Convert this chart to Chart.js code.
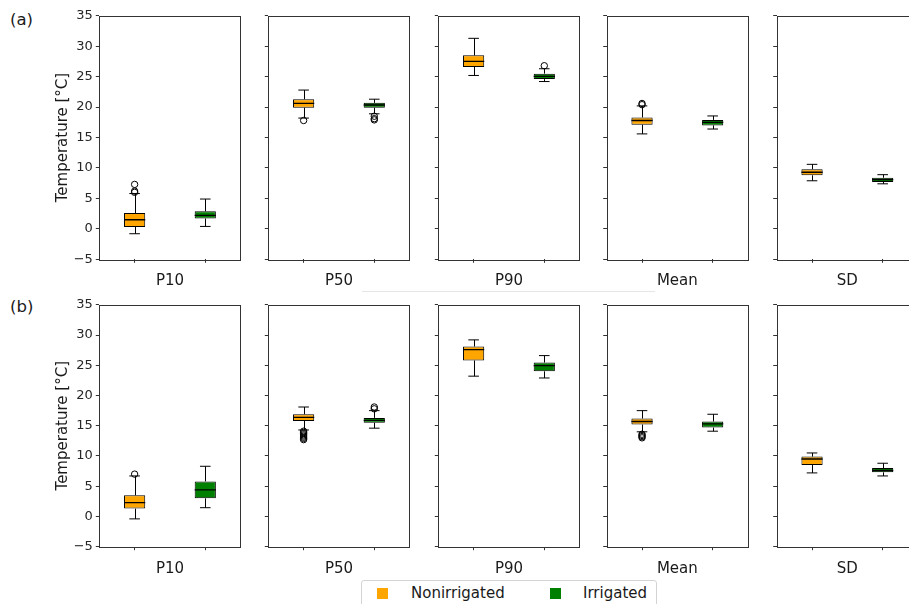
<!DOCTYPE html>
<html>
<head>
<meta charset="utf-8">
<script src="https://cdn.jsdelivr.net/npm/chart.js@4.4.1/dist/chart.umd.min.js"></script>
<style>
html, body { margin: 0; padding: 0; background: #fff; overflow: hidden; width: 909px; height: 604px; }
body { position: relative; font-family: "DejaVu Sans", sans-serif; color: #1a1a1a; }
canvas { position: absolute; }
.tag { position: absolute; left: 10px; font-size: 16.5px; line-height: 1; }
.legend { position: absolute; left: 361px; top: 580px; width: 294px; height: 34px; border: 1px solid #d4d4d4; border-radius: 3px; background: #fff; }
.legend .sw { position: absolute; top: 7px; width: 11px; height: 11px; }
.legend .lb { position: absolute; top: 5px; font-size: 15px; line-height: 1; }
.sep { position: absolute; left: 362px; top: 291px; width: 293px; border-top: 1px solid #e6e6e6; }
</style>
</head>
<body>
<div class="tag" style="top:12px">(a)</div>
<div class="tag" style="top:299px">(b)</div>
<div class="sep"></div>

<script>
const panels = ['P10', 'P50', 'P90', 'Mean', 'SD'];
const groups = ['Nonirrigated', 'Irrigated'];
const groupColors = ['#ffa500', '#008000'];
const yTicks = [-5, 0, 5, 10, 15, 20, 25, 30, 35];

// chaque boîte : [moustache basse, Q1, médiane, Q3, moustache haute]
const aNonirrigated = [
    [-0.8, 0.3, 1.5, 2.6, 5.8],
    [18.2, 19.9, 20.6, 21.3, 22.8],
    [25.2, 26.6, 27.5, 28.5, 31.3],
    [15.6, 17.1, 17.8, 18.3, 20.2],
    [7.9, 8.8, 9.3, 9.8, 10.6]
];
const aIrrigated = [
    [0.4, 1.7, 2.2, 2.9, 4.9],
    [18.9, 19.9, 20.35, 20.7, 21.3],
    [24.2, 24.6, 25.05, 25.5, 26.3],
    [16.4, 17.0, 17.5, 17.9, 18.55],
    [7.4, 7.7, 8.1, 8.4, 8.9]
];
const aNonOutliers = [[6.0, 6.2, 7.3], [17.8], [], [20.4, 20.6], []];
const aIrrOutliers = [[], [18.5, 18.1, 17.9], [26.8], [], []];

const bNonirrigated = [
    [-0.4, 1.3, 2.3, 3.5, 6.7],
    [14.3, 15.8, 16.4, 16.9, 18.1],
    [23.2, 25.8, 27.6, 28.1, 29.2],
    [14.0, 15.2, 15.7, 16.2, 17.5],
    [7.2, 8.5, 9.5, 9.9, 10.5]
];
const bIrrigated = [
    [1.45, 3.0, 4.4, 5.8, 8.3],
    [14.6, 15.5, 15.9, 16.3, 17.5],
    [22.9, 24.0, 24.95, 25.45, 26.6],
    [14.1, 14.7, 15.3, 15.7, 16.9],
    [6.7, 7.3, 7.6, 8.0, 8.8]
];
const bNonOutliers = [[7.0], [14.1, 13.9, 13.7, 13.5, 13.3, 13.1, 12.9, 12.7], [], [13.6, 13.4, 13.2, 13.0], []];
const bIrrOutliers = [[], [17.8, 18.1], [], [], []];

// géométrie des sous-graphes (px)
const panelLefts = [99.3, 268.3, 438.3, 606.7, 776.7];
const panelWidth = 141.3;
const rows = [
    { top: 15, bottom: 259.3, non: aNonirrigated, irr: aIrrigated, nonOut: aNonOutliers, irrOut: aIrrOutliers },
    { top: 304, bottom: 546.7, non: bNonirrigated, irr: bIrrigated, nonOut: bNonOutliers, irrOut: bIrrOutliers }
];
const padL = 53, padT = 10, xAxisH = 31, canvasW = 251, canvasH = 294;
const boxHalf = 0.15, capHalf = 0.075;

const boxWhiskers = {
    id: 'boxWhiskers',
    beforeDatasetsDraw(chart, args, opts) {
        const { ctx, scales: { x, y } } = chart;
        ctx.save();
        ctx.strokeStyle = '#000';
        ctx.lineWidth = 1;
        ctx.beginPath();
        opts.stats.forEach((s, i) => {
            const cx = Math.round(x.getPixelForValue(i + 1)) + 0.5;
            const c0 = x.getPixelForValue(i + 1 - capHalf);
            const c1 = x.getPixelForValue(i + 1 + capHalf);
            ctx.moveTo(cx, y.getPixelForValue(s[0]));
            ctx.lineTo(cx, y.getPixelForValue(s[1]));
            ctx.moveTo(cx, y.getPixelForValue(s[3]));
            ctx.lineTo(cx, y.getPixelForValue(s[4]));
            ctx.moveTo(c0, y.getPixelForValue(s[0]));
            ctx.lineTo(c1, y.getPixelForValue(s[0]));
            ctx.moveTo(c0, y.getPixelForValue(s[4]));
            ctx.lineTo(c1, y.getPixelForValue(s[4]));
        });
        ctx.stroke();
        ctx.restore();
    },
    afterDatasetsDraw(chart, args, opts) {
        const { ctx, scales: { x, y } } = chart;
        ctx.save();
        ctx.strokeStyle = '#000';
        ctx.lineWidth = 1.3;
        ctx.beginPath();
        opts.stats.forEach((s, i) => {
            const my = y.getPixelForValue(s[2]);
            ctx.moveTo(x.getPixelForValue(i + 1 - boxHalf), my);
            ctx.lineTo(x.getPixelForValue(i + 1 + boxHalf), my);
        });
        ctx.stroke();
        // cadre complet
        const a = chart.chartArea;
        ctx.strokeStyle = '#333';
        ctx.lineWidth = 1;
        ctx.strokeRect(Math.round(a.left) + 0.5, Math.round(a.top) + 0.5,
            Math.round(a.right - a.left), Math.round(a.bottom - a.top));
        ctx.restore();
    }
};

function makePanel(row, i) {
    const L = panelLefts[i];
    const cLeft = Math.floor(L) - 99;
    const cTop = Math.floor(row.top) - padT;
    const yw = L - cLeft - padL;
    const padR = canvasW - (L - cLeft + panelWidth);
    const padB = canvasH - (row.top - cTop) - (row.bottom - row.top) - xAxisH;
    const first = i === 0;

    const cv = document.createElement('canvas');
    cv.width = canvasW;
    cv.height = canvasH;
    cv.style.left = cLeft + 'px';
    cv.style.top = cTop + 'px';
    document.body.appendChild(cv);

    const stats = [row.non[i], row.irr[i]];
    const outliers = row.nonOut[i].map(v => ({ x: 1, y: v }))
        .concat(row.irrOut[i].map(v => ({ x: 2, y: v })));

    new Chart(cv, {
        type: 'bar',
        data: {
            datasets: [{
                label: panels[i],
                data: stats.map((s, k) => ({ x: k + 1, y: [s[1], s[3]] })),
                backgroundColor: groupColors,
                borderColor: '#000',
                borderWidth: 1,
                borderSkipped: false,
                categoryPercentage: 1,
                barPercentage: 2 * boxHalf
            }, {
                type: 'scatter',
                label: 'outliers',
                data: outliers,
                pointStyle: 'circle',
                pointRadius: 3.2,
                pointBackgroundColor: 'rgba(0,0,0,0)',
                pointBorderColor: '#000',
                pointBorderWidth: 1
            }]
        },
        options: {
            responsive: false,
            animation: false,
            events: [],
            layout: { padding: { left: padL, top: row.top - cTop, right: padR, bottom: padB } },
            plugins: {
                legend: { display: false },
                tooltip: { enabled: false },
                boxWhiskers: { stats: stats }
            },
            scales: {
                x: {
                    type: 'linear',
                    min: 0.5,
                    max: 2.5,
                    offset: false,
                    afterBuildTicks: s => { s.ticks = [{ value: 1 }, { value: 2 }]; },
                    afterFit: s => { s.height = xAxisH; },
                    ticks: { callback: () => '', padding: 0 },
                    grid: { drawOnChartArea: false, offset: false, drawTicks: true, tickLength: 3.5, color: '#333' },
                    border: { display: false },
                    title: {
                        display: true,
                        text: panels[i],
                        color: '#1a1a1a',
                        padding: 0,
                        font: { family: 'DejaVu Sans', size: 15 }
                    }
                },
                y: {
                    type: 'linear',
                    min: yTicks[0],
                    max: yTicks[yTicks.length - 1],
                    afterBuildTicks: s => { s.ticks = yTicks.map(v => ({ value: v })); },
                    afterFit: s => { s.width = yw; },
                    ticks: {
                        padding: 3,
                        color: '#262626',
                        font: { family: 'DejaVu Sans', size: 13 },
                        callback: v => first ? (v < 0 ? '\u2212' + Math.abs(v) : String(v)) : ''
                    },
                    grid: { drawOnChartArea: false, drawTicks: true, tickLength: 3.5, color: '#333' },
                    border: { display: false },
                    title: {
                        display: first,
                        text: 'Temperature [°C]',
                        color: '#1a1a1a',
                        padding: { top: 1, bottom: 0 },
                        font: { family: 'DejaVu Sans', size: 15 }
                    }
                }
            }
        },
        plugins: [boxWhiskers]
    });
}

rows.forEach(row => panels.forEach((p, i) => makePanel(row, i)));

// légende commune
const legend = document.createElement('div');
legend.className = 'legend';
const swLefts = [15, 188], lbLefts = [49, 221];
groups.forEach((g, k) => {
    const sw = document.createElement('div');
    sw.className = 'sw';
    sw.style.left = swLefts[k] + 'px';
    sw.style.background = groupColors[k];
    const lb = document.createElement('div');
    lb.className = 'lb';
    lb.style.left = lbLefts[k] + 'px';
    lb.textContent = g;
    legend.appendChild(sw);
    legend.appendChild(lb);
});
document.body.appendChild(legend);
</script>
</body>
</html>
